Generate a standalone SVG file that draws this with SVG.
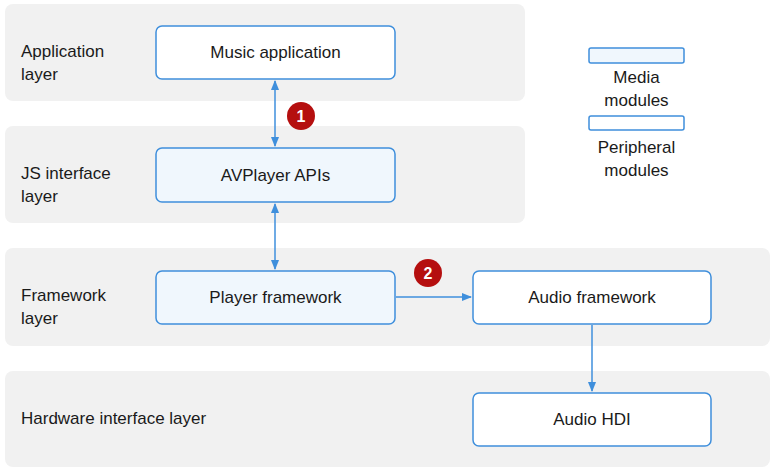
<svg xmlns="http://www.w3.org/2000/svg" width="775" height="472" viewBox="0 0 775 472">
<defs>
<style>
.band{fill:#f1f1f1}
.node{stroke:#3f8fdc;stroke-width:1.5}
.media{fill:#f0f7fd}
.peri{fill:#ffffff}
text{font-family:"Liberation Sans",Arial,sans-serif;font-size:17px;fill:#1a1a1a}
.c{text-anchor:middle}
.conn{stroke:#3f8fdc;stroke-width:1.5;fill:none}
.badge{fill:#b50f0f}
.bt{fill:#fff;font-weight:bold;font-size:16px;text-anchor:middle}
</style>
<marker id="a" viewBox="0 0 10 10" refX="9" refY="5" markerWidth="7" markerHeight="7" orient="auto-start-reverse"><path d="M0,1 L10,5 L0,9 z" fill="#3f8fdc"/></marker>
</defs>
<rect width="775" height="472" fill="#fff"/>
<g id="bands">
<rect class="band" x="5" y="4" width="520" height="97" rx="8"/>
<rect class="band" x="5" y="126" width="520" height="97" rx="8"/>
<rect class="band" x="5" y="248" width="765" height="98" rx="8"/>
<rect class="band" x="5" y="371" width="765" height="96" rx="8"/>
<text x="21" y="57">Application</text><text x="21" y="80">layer</text>
<text x="21" y="179">JS interface</text><text x="21" y="202">layer</text>
<text x="21" y="301">Framework</text><text x="21" y="324">layer</text>
<text x="21" y="424">Hardware interface layer</text>
</g>
<g id="connectors">
<line class="conn" x1="275" y1="81" x2="275" y2="146" marker-start="url(#a)" marker-end="url(#a)"/>
<line class="conn" x1="275" y1="204" x2="275" y2="269" marker-start="url(#a)" marker-end="url(#a)"/>
<line class="conn" x1="396" y1="297" x2="471" y2="297" marker-end="url(#a)"/>
<line class="conn" x1="592" y1="325" x2="592" y2="391" marker-end="url(#a)"/>
</g>
<g id="music"><rect class="node peri" x="156" y="26" width="239" height="53" rx="6"/><text class="c" x="275.5" y="58">Music application</text></g>
<g id="avplayer"><rect class="node media" x="156" y="148" width="239" height="54" rx="6"/><text class="c" x="275.5" y="181">AVPlayer APIs</text></g>
<g id="player"><rect class="node media" x="156" y="271" width="239" height="53" rx="6"/><text class="c" x="275.5" y="303">Player framework</text></g>
<g id="audiofw"><rect class="node peri" x="473" y="271" width="238" height="53" rx="6"/><text class="c" x="592" y="303">Audio framework</text></g>
<g id="audiohdi"><rect class="node peri" x="473" y="393" width="238" height="53" rx="6"/><text class="c" x="592" y="425">Audio HDI</text></g>
<g id="badge1"><circle class="badge" cx="301" cy="116" r="14"/><text class="bt" x="301" y="122">1</text></g>
<g id="badge2"><circle class="badge" cx="428" cy="273" r="14"/><text class="bt" x="428" y="279">2</text></g>
<g id="legend">
<rect class="node media" x="589" y="48" width="95" height="15" rx="2"/>
<text class="c" x="636.5" y="83">Media</text><text class="c" x="636.5" y="106">modules</text>
<rect class="node peri" x="589" y="116" width="95" height="14" rx="2"/>
<text class="c" x="636.5" y="153">Peripheral</text><text class="c" x="636.5" y="176">modules</text>
</g>
</svg>
